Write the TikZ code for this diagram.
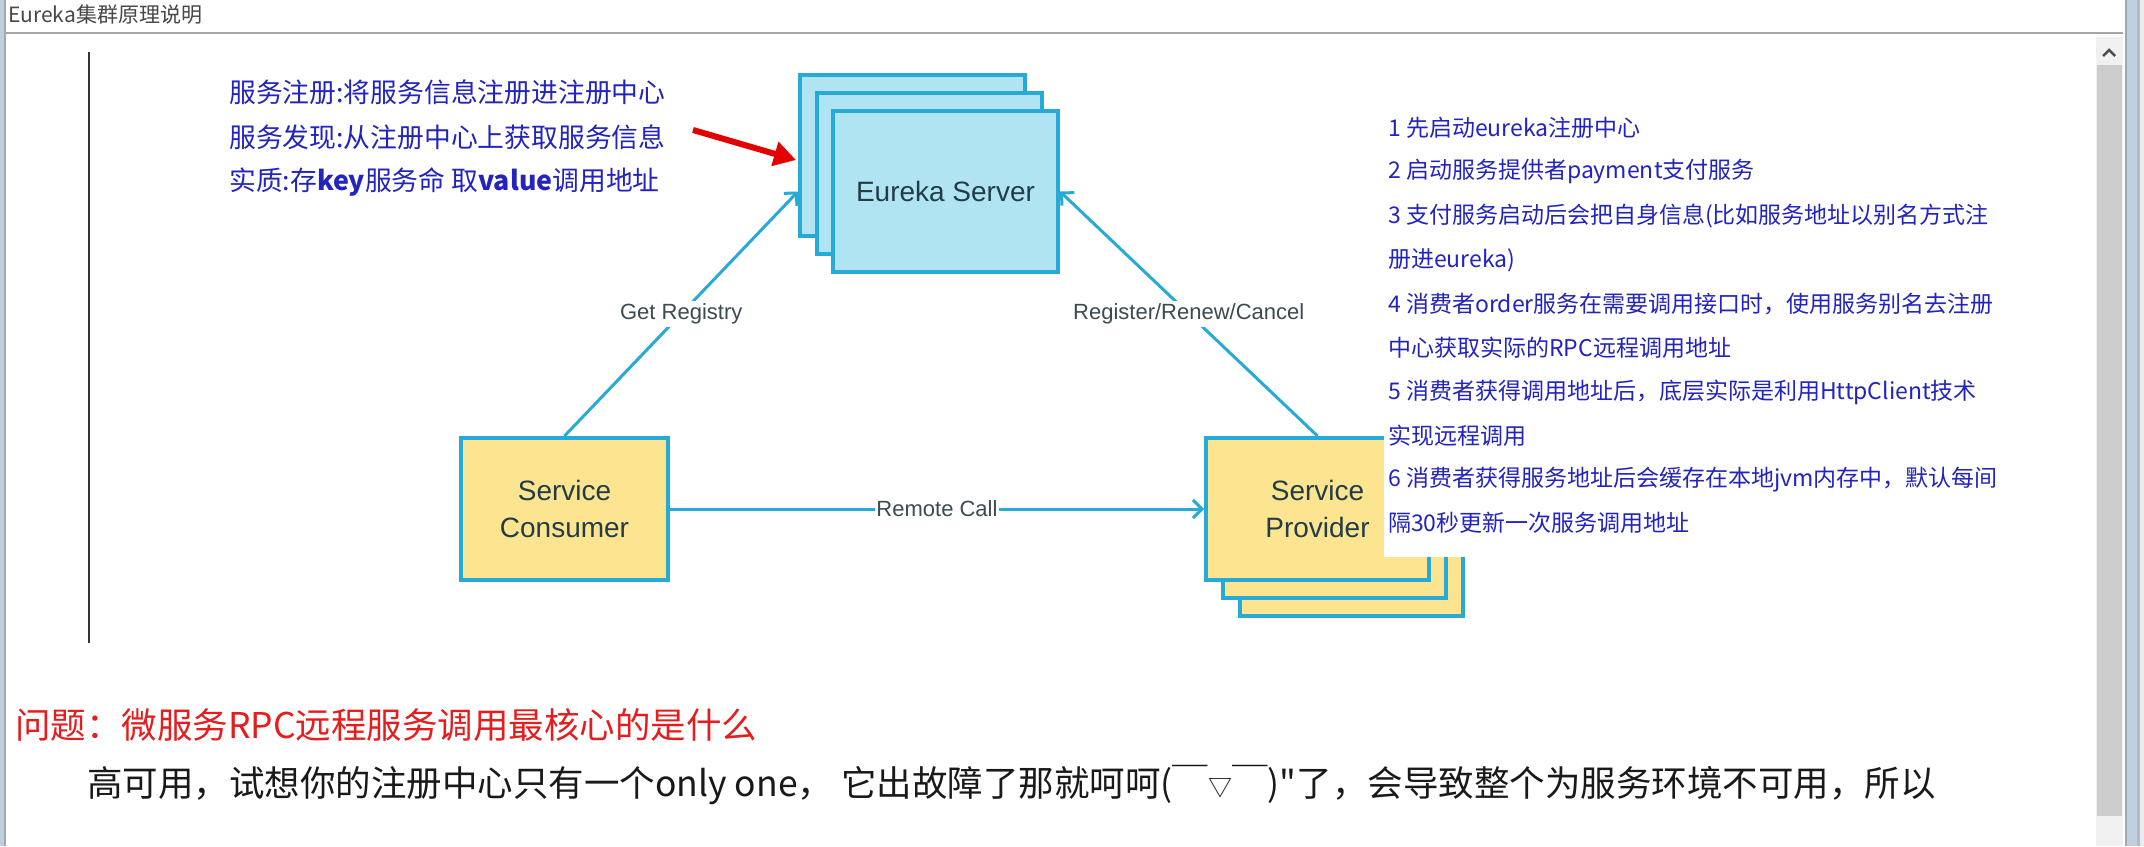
\documentclass[tikz,border=0pt]{standalone}
\usepackage{fontspec}
\setmainfont{Liberation Sans}
\newfontfamily\cjk{Noto Sans CJK SC}
\usetikzlibrary{arrows.meta}

\definecolor{srvline}{RGB}{40,170,215}
\definecolor{srvfill}{RGB}{176,228,243}
\definecolor{cltfill}{RGB}{252,228,145}
\definecolor{boxtext}{RGB}{35,60,70}
\definecolor{linktext}{RGB}{60,75,82}
\definecolor{noteblue}{RGB}{35,35,190}
\definecolor{qred}{RGB}{228,30,30}
\definecolor{framebl}{RGB}{192,206,222}
\definecolor{framegr}{RGB}{160,168,178}

\tikzset{
  srvbox/.style={draw=srvline, line width=4pt, fill=srvfill, inner sep=0pt,
    minimum width=225pt, minimum height=161pt, text=boxtext,
    font=\fontsize{28}{34}\selectfont},
  cltbox/.style={srvbox, fill=cltfill, align=center,
    minimum width=223pt, minimum height=142pt, font=\fontsize{28}{37}\selectfont},
  link/.style={draw=srvline, line width=3pt, -{Straight Barb[length=9pt,width=18pt]}},
  linklabel/.style={fill=white, text=linktext, inner sep=3pt,
    font=\fontsize{22}{26}\selectfont},
  note/.style={anchor=west, inner sep=0pt, text=noteblue, font=\cjk\fontsize{26.8}{30}\selectfont},
  steptext/.style={anchor=west, inner sep=0pt, text=noteblue, font=\cjk\fontsize{23}{28}\selectfont},
  bigtext/.style={anchor=west, inner sep=0pt, font=\cjk\fontsize{35.5}{40}\selectfont}
}

\begin{document}
\begin{tikzpicture}[x=1pt,y=-1pt]
  % page, 2144 x 846
  \useasboundingbox[fill=white] (0,0) rectangle (2144,846);

  % window frame and title bar
  \fill[framebl] (0,0) rectangle (4,846);
  \draw[framegr, line width=1.5pt] (5,0) -- (5,846);
  \fill[framegr] (2125,0) rectangle (2127,846);
  \fill[framebl] (2127,0) rectangle (2137,846);
  \fill[framegr!80] (2137,0) rectangle (2140,846);
  \fill[black!8] (2140,0) rectangle (2144,846);
  \draw[black!35, line width=2pt] (5,33) -- (2123,33);
  \node[anchor=west, inner sep=0pt, text=black!72, font=\cjk\fontsize{21}{24}\selectfont]
    (title) at (8,15) {Eureka集群原理说明};

  % scroll bar
  \fill[black!6] (2096,37) rectangle (2123,846);
  \fill[black!20] (2097,65) rectangle (2122,816);
  \draw[black!70, line width=2.5pt] (2103,56) -- (2109,50) -- (2115,56);

  % margin line
  \draw[black!80, line width=2pt] (89,52) -- (89,643);

  % eureka server stack
  \node[srvbox] (eurekaback) at (912.5,155) {};
  \node[srvbox] (eurekamid) at (929.5,173.5) {};
  \node[srvbox] (eureka) at (945.5,191.5) {Eureka Server};

  % provider stack and consumer
  \node[cltbox] (providerback) at (1351,545) {};
  \node[cltbox] (providermid) at (1334,527) {};
  \node[cltbox] (provider) at (1317.5,509) {Service\\Provider};
  \node[cltbox, minimum width=207pt] (consumer) at (564.5,509) {Service\\Consumer};

  % connectors
  \draw[link] (consumer.north) -- node[linklabel] (getreg) {Get Registry}
    (eurekaback.west |- eureka.center);
  \draw[link] (provider.north) -- node[linklabel] (register) {Register/Renew/Cancel}
    (eureka.east);
  \draw[link] (consumer.east) -- node[linklabel, inner sep=1.5pt] (remote) {Remote Call}
    (provider.west);

  % notes on the left
  \node[note] (note1) at (229,92) {服务注册:将服务信息注册进注册中心};
  \node[note] (note2) at (229,137) {服务发现:从注册中心上获取服务信息};
  \node[note] (note3) at (229,182) {实质:存{\bfseries key}服务命 取{\bfseries value}调用地址};
  \coordinate (redtail) at (693,130);
  \coordinate (redtip) at (796,160);
  \draw[red!90!black, line width=6pt, -{Triangle[length=22pt,width=24pt]}] (redtail) -- (redtip);

  % steps on the right, on a white sheet
  \fill[white] (1384,90) rectangle (1520,557);
  \node[steptext] (step1) at (1388,128) {1 先启动eureka注册中心};
  \node[steptext] (step2) at (1388,172) {2 启动服务提供者payment支付服务};
  \node[steptext] (step3) at (1388,216) {3 支付服务启动后会把自身信息(比如服务地址以别名方式注};
  \node[steptext] (step3b) at (1388,260) {册进eureka)};
  \node[steptext] (step4) at (1388,304) {4 消费者order服务在需要调用接口时，使用服务别名去注册};
  \node[steptext] (step4b) at (1388,348) {中心获取实际的RPC远程调用地址};
  \node[steptext] (step5) at (1388,392) {5 消费者获得调用地址后，底层实际是利用HttpClient技术};
  \node[steptext] (step5b) at (1388,436) {实现远程调用};
  \node[steptext] (step6) at (1388,480) {6 消费者获得服务地址后会缓存在本地jvm内存中，默认每间};
  \node[steptext] (step6b) at (1388,523) {隔30秒更新一次服务调用地址};

  % question below
  \node[bigtext, text=qred] (question) at (15,725) {问题：微服务RPC远程服务调用最核心的是什么};
  \node[bigtext, text=black!90] (answer) at (87,785)
    {高可用，试想你的注册中心只有一个only one， 它出故障了那就呵呵(￣{\fontsize{24}{26}\selectfont ▽}￣)"了，会导致整个为服务环境不可用，所以};
\end{tikzpicture}
\end{document}
